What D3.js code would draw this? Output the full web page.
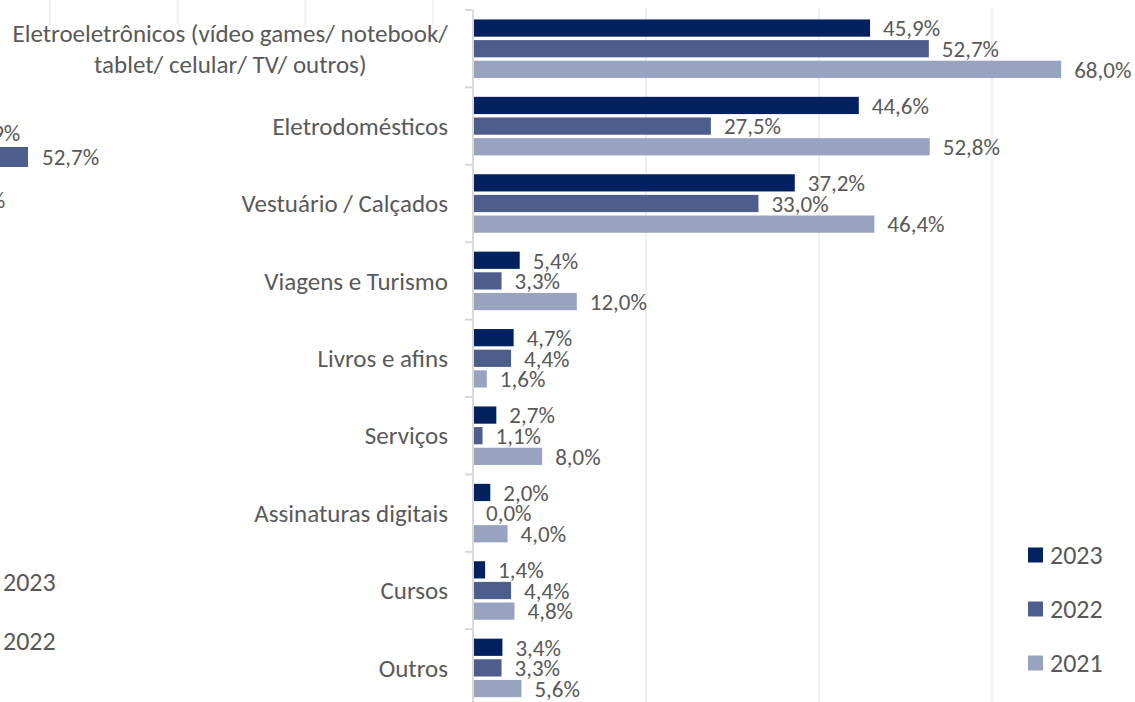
<!DOCTYPE html>
<html>
<head>
<meta charset="utf-8">
<script src="https://cdn.jsdelivr.net/npm/d3@7"></script>
<style>
  html, body { margin: 0; padding: 0; background: #ffffff; }
  svg { display: block; }
  text { font-family: Carlito, Lato, "Noto Sans", sans-serif; fill: #595959; }
</style>
</head>
<body>
<svg id="chart" width="1135" height="702"></svg>
<script>
// ---- data ----
const categories = [
  "Eletroeletrônicos (vídeo games/ notebook/\ntablet/ celular/ TV/ outros)",
  "Eletrodomésticos",
  "Vestuário / Calçados",
  "Viagens e Turismo",
  "Livros e afins",
  "Serviços",
  "Assinaturas digitais",
  "Cursos",
  "Outros"
];
const seriesNames = ["2023", "2022", "2021"];
const values2023 = [45.9, 44.6, 37.2, 5.4, 4.7, 2.7, 2.0, 1.4, 3.4];
const values2022 = [52.7, 27.5, 33.0, 3.3, 4.4, 1.1, 0.0, 4.4, 3.3];
const values2021 = [68.0, 52.8, 46.4, 12.0, 1.6, 8.0, 4.0, 4.8, 5.6];
const xTicks = [0, 20, 40, 60, 80];

// fragment of another chart visible at the left edge of the screenshot
const ghostCategories = ["Eletroeletrônicos", "Eletrodomésticos"];
const ghostSeries = ["2023", "2022"];
const ghost2023 = [45.9, 44.6];
const ghost2022 = [52.7, 27.5];
const ghostGridTicks = [0, 10, 20, 30];

const colors = { "2023": "#03215f", "2022": "#4d5e8d", "2021": "#98a4bf" };
const fmt = v => d3.format(".1f")(v).replace(".", ",") + "%";

const svg = d3.select("#chart");

// ---- ghost fragment (drawn first, behind) ----
const gx = d3.scaleLinear().domain([44.6, 52.7]).range([-66, 28]);
const gGrid = d3.scaleLinear().domain([0, 10]).range([50, 177.7]);
const gy = d3.scaleBand().domain(ghostCategories).range([121, 236]).paddingInner(0.284).paddingOuter(0);
const gySub = d3.scaleBand().domain(ghostSeries).range([0, gy.bandwidth()]);
const ghost = svg.append("g");
ghost.selectAll("line.gg").data(ghostGridTicks).join("line")
  .attr("x1", d => gGrid(d)).attr("x2", d => gGrid(d))
  .attr("y1", 0).attr("y2", 25)
  .attr("stroke", "#f0f0f0").attr("stroke-width", 2);
const ghostRows = [];
ghostCategories.forEach((c, i) => {
  ghostRows.push({ c, s: "2023", v: ghost2023[i] });
  ghostRows.push({ c, s: "2022", v: ghost2022[i] });
});
ghost.selectAll("rect").data(ghostRows).join("rect")
  .attr("x", gx(0)).attr("width", d => gx(d.v) - gx(0))
  .attr("y", d => gy(d.c) + gySub(d.s) + 2)
  .attr("height", gySub.bandwidth() - 4)
  .attr("fill", d => colors[d.s]);
ghost.selectAll("text.gl").data(ghostRows).join("text")
  .attr("x", d => gx(d.v) + 14)
  .attr("y", d => gy(d.c) + gySub(d.s) + gySub.bandwidth() / 2)
  .attr("dy", "0.35em")
  .style("font-size", "23px")
  .text(d => fmt(d.v));
const gLeg = d3.scaleBand().domain(ghostSeries).range([552, 670]);
ghost.selectAll("text.glg").data(ghostSeries).join("text")
  .attr("x", 3)
  .attr("y", d => gLeg(d) + gLeg.bandwidth() / 2)
  .attr("dy", "0.35em")
  .style("font-size", "26px")
  .text(d => d);

// ---- main chart ----
const x = d3.scaleLinear().domain([0, 80]).range([473, 1165]);
const y = d3.scaleBand().domain(categories).range([10, 706.6]).paddingInner(0.2).paddingOuter(0.1);
const ySub = d3.scaleBand().domain(seriesNames).range([0, y.bandwidth()]);

// white background for main chart
svg.append("rect").attr("x", 460).attr("y", 0).attr("width", 675).attr("height", 702).attr("fill", "#fff");
svg.append("rect").attr("x", 0).attr("y", 26).attr("width", 460).attr("height", 80).attr("fill", "#fff");

// gridlines
svg.append("g").selectAll("line").data(xTicks.filter(d => d > 0)).join("line")
  .attr("x1", d => x(d)).attr("x2", d => x(d))
  .attr("y1", 8).attr("y2", 706.6)
  .attr("stroke", "#efefef").attr("stroke-width", 2);

// category axis with tick marks between groups
const axisG = svg.append("g");
axisG.append("line")
  .attr("x1", x(0)).attr("x2", x(0)).attr("y1", 10).attr("y2", 706.6)
  .attr("stroke", "#d9d9d9").attr("stroke-width", 2);
const step = y.step();
const boundaries = d3.range(categories.length + 1).map(i => 10 + i * step);
axisG.selectAll("line.tk").data(boundaries).join("line")
  .attr("x1", x(0) - 8).attr("x2", x(0))
  .attr("y1", d => d).attr("y2", d => d)
  .attr("stroke", "#d9d9d9").attr("stroke-width", 2);

// bars
const rows = [];
categories.forEach((c, i) => {
  rows.push({ c, s: "2023", v: values2023[i] });
  rows.push({ c, s: "2022", v: values2022[i] });
  rows.push({ c, s: "2021", v: values2021[i] });
});
const barG = svg.append("g");
barG.selectAll("rect").data(rows).join("rect")
  .attr("x", x(0) + 1)
  .attr("width", d => Math.max(0, x(d.v) - x(0) - 1))
  .attr("y", d => y(d.c) + ySub(d.s) + 1.7)
  .attr("height", ySub.bandwidth() - 3.4)
  .attr("fill", d => colors[d.s]);

// data labels
barG.selectAll("text").data(rows).join("text")
  .attr("x", d => x(d.v) + 13)
  .attr("y", d => y(d.c) + ySub(d.s) + ySub.bandwidth() / 2)
  .attr("dy", "0.36em")
  .style("font-size", "23px")
  .text(d => fmt(d.v));

// category labels
const catG = svg.append("g");
categories.forEach(c => {
  const lines = c.split("\n");
  const cy = y(c) + y.bandwidth() / 2;
  const lh = 31;
  const t = catG.append("text")
    .attr("text-anchor", "end")
    .style("font-size", "25px");
  if (lines.length === 1) {
    t.attr("x", 448).attr("y", cy).attr("dy", "0.35em").text(lines[0]);
  } else {
    // multi-line: lines centered on each other, block right-aligned
    t.attr("text-anchor", "middle");
    const spans = lines.map((ln, k) => t.append("tspan")
      .attr("y", cy + (k - (lines.length - 1) / 2) * lh)
      .attr("dy", "0.35em")
      .text(ln));
    const w = d3.max(spans, s => s.node().getComputedTextLength());
    spans.forEach(s => s.attr("x", 448 - w / 2));
  }
});

// legend
const leg = d3.scaleBand().domain(seriesNames).range([528, 690]);
const legG = svg.append("g");
legG.selectAll("rect").data(seriesNames).join("rect")
  .attr("x", 1028).attr("width", 15)
  .attr("y", d => leg(d) + leg.bandwidth() / 2 - 7.5)
  .attr("height", 15)
  .attr("fill", d => colors[d]);
legG.selectAll("text").data(seriesNames).join("text")
  .attr("x", 1050)
  .attr("y", d => leg(d) + leg.bandwidth() / 2)
  .attr("dy", "0.36em")
  .style("font-size", "26px")
  .text(d => d);
</script>
</body>
</html>
